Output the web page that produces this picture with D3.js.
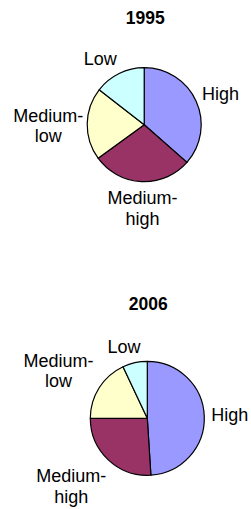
<!DOCTYPE html>
<html>
<head>
<meta charset="utf-8">
<script src="https://cdn.jsdelivr.net/npm/d3@7"></script>
<style>
  body { margin: 0; background: #fff; }
  text { font-family: "Liberation Sans", Arial, sans-serif; fill: #000; }
</style>
</head>
<body>
<div id="viz"></div>
<script>
// chart data
const categories = ['High', 'Medium-high', 'Medium-low', 'Low'];
const labelLines = [['High'], ['Medium-', 'high'], ['Medium-', 'low'], ['Low']];
const years = ['1995', '2006'];
const share1995 = [36.5, 28.5, 20.5, 14.5];
const share2006 = [49, 26, 18, 7];
const sliceColours = ['#9999ff', '#993366', '#ffffcc', '#ccffff'];

// layout
const width = 251;
const height = 509;
const radius = 57;
const labelGap = 6;
const lineHeight = 20.5;
const pies = [
  { year: years[0], values: share1995, cx: 144.2, cy: 124.7, titleY: 24,
    nudge: [[2, -1], [3, 0], [2, 2], [-9, 0]] },
  { year: years[1], values: share2006, cx: 147.3, cy: 418.3, titleY: 309.5,
    nudge: [[1, -1], [-9, 7], [-6, -3], [-6, 0]] },
];

const svg = d3.select('#viz')
  .append('svg')
  .attr('width', width)
  .attr('height', height);

const colour = d3.scaleOrdinal().domain(categories).range(sliceColours);

const pie = d3.pie().sort(null).value(d => d.value);
const arc = d3.arc().innerRadius(0).outerRadius(radius);

pies.forEach(p => {
  const g = svg.append('g').attr('transform', `translate(${p.cx},${p.cy})`);

  svg.append('text')
    .attr('x', p.cx + 1)
    .attr('y', p.titleY)
    .attr('text-anchor', 'middle')
    .style('font-size', '17.5px')
    .style('font-weight', 'bold')
    .text(p.year);

  const data = categories.map((c, i) => ({ cat: c, value: p.values[i], lines: labelLines[i], idx: i }));
  const arcs = pie(data);

  g.selectAll('path')
    .data(arcs)
    .enter()
    .append('path')
    .attr('d', arc)
    .attr('fill', d => colour(d.data.cat))
    .attr('stroke', '#000')
    .attr('stroke-width', 1.2)
    .attr('stroke-linejoin', 'round');

  // labels placed just outside the slice middle
  arcs.forEach(d => {
    const a = (d.startAngle + d.endAngle) / 2;
    const s = Math.sin(a);
    const c = Math.cos(a);
    const t = g.append('text')
      .attr('text-anchor', 'middle')
      .style('font-size', '18px');
    d.data.lines.forEach(l => t.append('tspan').text(l));
    const w = d3.max(t.selectAll('tspan').nodes(), n => n.getComputedTextLength());
    const h = d.data.lines.length * lineHeight;
    const R = radius + labelGap;
    const nudge = p.nudge[d.data.idx];
    const bx = R * s + s * w / 2 + nudge[0];
    const by = -R * c - c * h / 2 + nudge[1];
    const firstBase = by - (d.data.lines.length - 1) * lineHeight / 2 + 6.4;
    t.selectAll('tspan')
      .attr('x', bx)
      .attr('y', (l, i) => firstBase + i * lineHeight);
  });
});
</script>
</body>
</html>
